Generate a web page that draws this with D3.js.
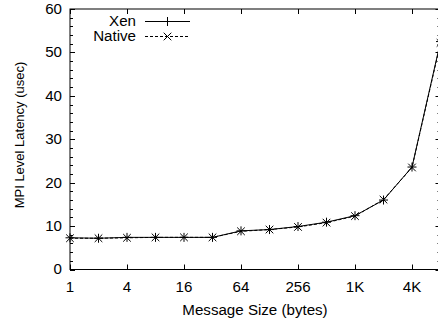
<!DOCTYPE html>
<html><head><meta charset="utf-8">
<script src="https://cdn.jsdelivr.net/npm/d3@7"></script>
<style>body{margin:0;background:#fff}svg{display:block}text{font-family:"Liberation Sans",Arial,Helvetica,sans-serif;fill:#000}</style>
</head><body><svg id="c" width="438" height="322"></svg>
<script>
const sizes = [1,2,4,8,16,32,64,128,256,512,1024,2048,4096,8192];
const xenLatency = [7.3,7.2,7.4,7.4,7.4,7.4,8.9,9.2,9.9,10.9,12.4,16.0,23.6,52.5];
const nativeLatency = [7.2,7.2,7.3,7.4,7.4,7.4,8.8,9.2,9.8,10.8,12.3,16.1,23.5,52.2];
const xTickValues = [1,4,16,64,256,1024,4096];
const xTickLabels = ["1","4","16","64","256","1K","4K"];
const yTickValues = [0,10,20,30,40,50,60];
const seriesNames = ["Xen","Native"];

const svg = d3.select("#c");
const L=70, R=440.5, T=9, B=269.5;
const x = d3.scaleLog().base(2).domain([1,8192]).range([L,R]);
const y = d3.scaleLinear().domain([0,60]).range([B,T]);
const FS = 14, SX = 1.08;

const g = svg.append("g");
function htext(px,py,anchor,str,dy){
  return g.append("text").attr("transform",`translate(${px},${py}) scale(${SX},1)`)
   .attr("text-anchor",anchor).attr("font-size",FS).attr("dy",dy||null).text(str);
}
// frame
g.append("rect").attr("x",L).attr("y",T).attr("width",R-L).attr("height",B-T)
 .attr("fill","none").attr("stroke","#000").attr("stroke-width",1);

// y ticks major + minor, both sides
d3.range(0,61,2).forEach(v=>{
  const len = v%10===0?5:3;
  const yy = Math.round(y(v))+0.5;
  g.append("line").attr("x1",L).attr("x2",L+len).attr("y1",yy).attr("y2",yy).attr("stroke","#000");
  g.append("line").attr("x1",R).attr("x2",R-len).attr("y1",yy).attr("y2",yy).attr("stroke","#000");
});
yTickValues.forEach(v=>htext(62,y(v),"end",v,"0.35em"));
// x ticks
xTickValues.forEach((v,i)=>{
  const xx = Math.round(x(v))+0.5;
  g.append("line").attr("x1",xx).attr("x2",xx).attr("y1",B).attr("y2",B-5).attr("stroke","#000");
  g.append("line").attr("x1",xx).attr("x2",xx).attr("y1",T).attr("y2",T+5).attr("stroke","#000");
  htext(x(v),292,"middle",xTickLabels[i]);
});
// axis titles
htext(255,315,"middle","Message Size (bytes)");
g.append("text").attr("transform","translate(24,135) rotate(-90)").attr("text-anchor","middle")
 .attr("font-size",13).text("MPI Level Latency (usec)");

const line = d3.line().x((d,i)=>x(sizes[i])).y(d=>y(d));
function plus(sel,cx,cy){const s=4.5;
  sel.append("path").attr("d",`M${cx-s},${cy}H${cx+s}M${cx},${cy-s}V${cy+s}`).attr("stroke","#000").attr("fill","none");}
function cross(sel,cx,cy){const s=3.8;
  sel.append("path").attr("d",`M${cx-s},${cy-s}L${cx+s},${cy+s}M${cx-s},${cy+s}L${cx+s},${cy-s}`).attr("stroke","#000").attr("fill","none");}

// Native (dashed)
g.append("path").datum(nativeLatency).attr("d",line).attr("fill","none").attr("stroke","#000")
 .attr("stroke-width",1).attr("stroke-dasharray","3,2");
nativeLatency.forEach((v,i)=>cross(g,x(sizes[i]),y(v)));
// Xen (solid)
g.append("path").datum(xenLatency).attr("d",line).attr("fill","none").attr("stroke","#000").attr("stroke-width",1);
xenLatency.forEach((v,i)=>plus(g,x(sizes[i]),y(v)));

// legend
[[seriesNames[0],21,null,plus],[seriesNames[1],36,"3,2",cross]].forEach(([name,ly,dash,mk])=>{
  htext(136,ly,"end",name,"0.35em");
  const ln = g.append("line").attr("x1",145).attr("x2",190).attr("y1",ly+0.5).attr("y2",ly+0.5).attr("stroke","#000");
  if(dash) ln.attr("stroke-dasharray",dash);
  mk(g,167.5,ly+0.5);
});
</script></body></html>
